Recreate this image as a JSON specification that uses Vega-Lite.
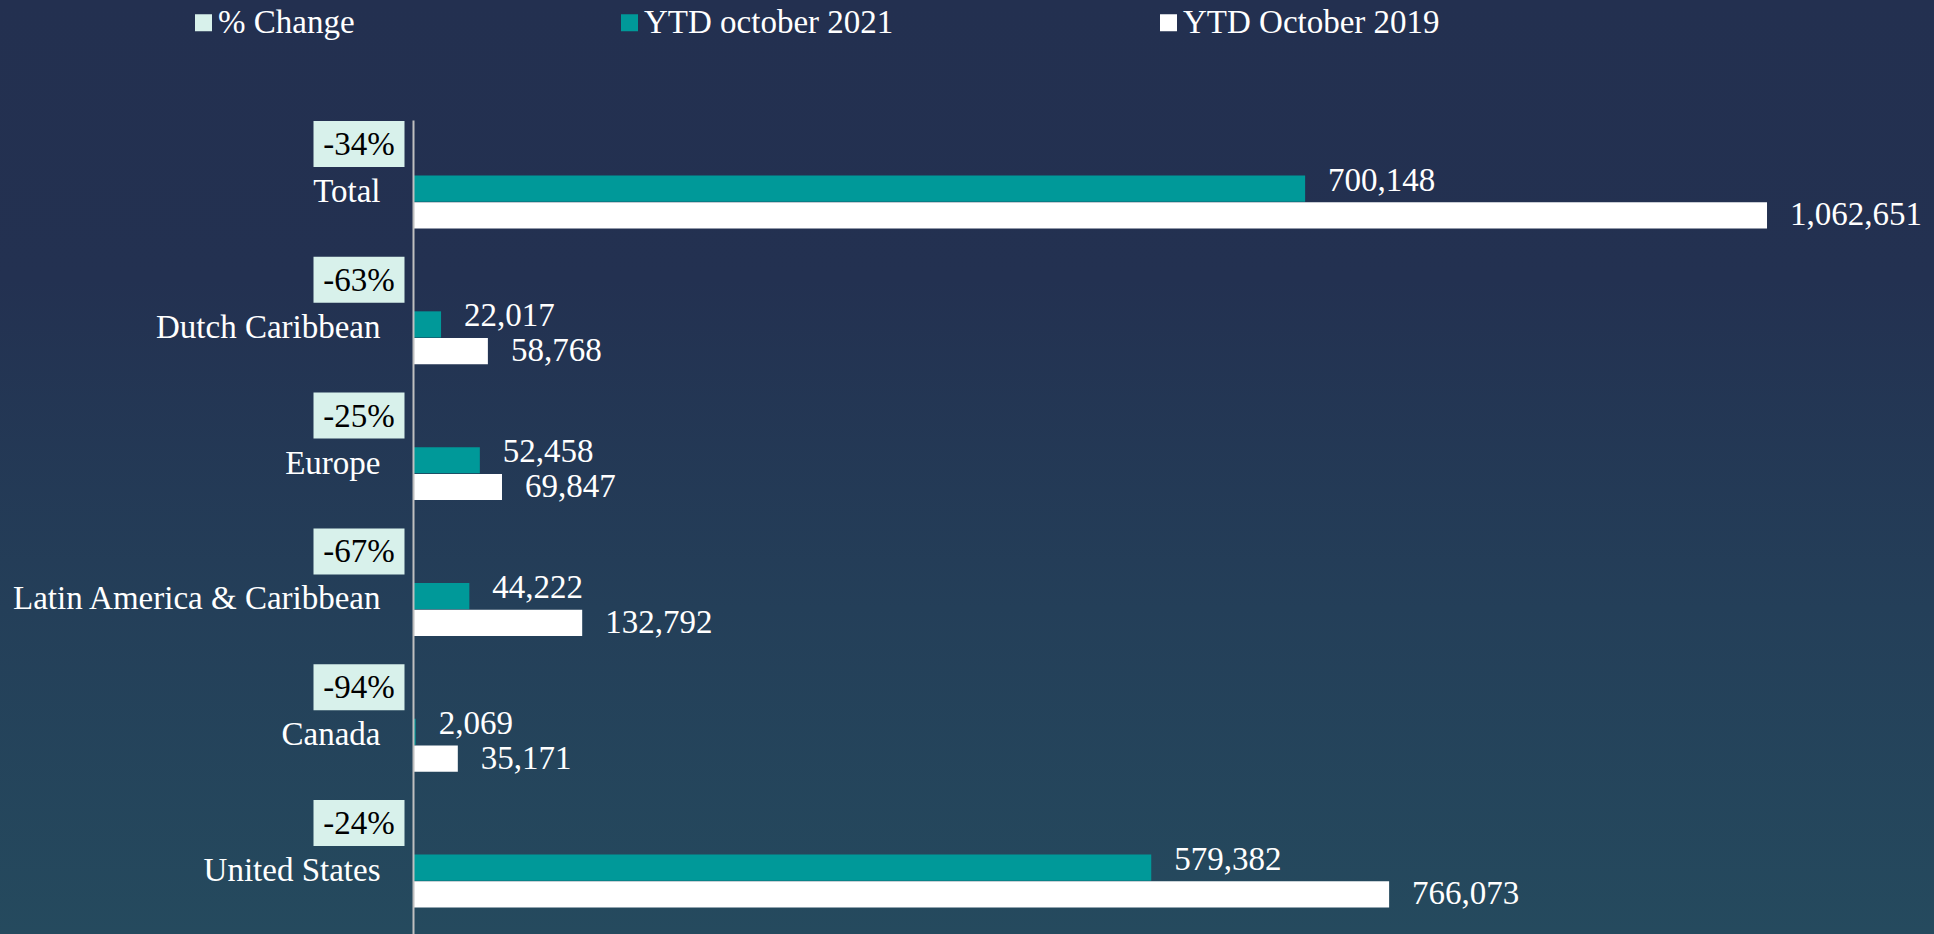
{
  "$schema": "https://vega.github.io/schema/vega-lite/v6.json",
  "width": 1934,
  "height": 934,
  "autosize": {"type": "none"},
  "padding": 0,
  "background": "#233050",
  "config": {
    "view": {
      "stroke": null,
      "fill": {
        "gradient": "linear",
        "x1": 0, "y1": 0, "x2": 0, "y2": 1,
        "stops": [
          {"offset": 0, "color": "#233050"},
          {"offset": 0.3, "color": "#233151"},
          {"offset": 0.65, "color": "#243f59"},
          {"offset": 1, "color": "#254a5e"}
        ]
      }
    },
    "font": "Liberation Serif",
    "legend": {
      "orient": "none", "legendX": 187, "legendY": 6, "direction": "horizontal", "title": null,
      "padding": 0, "symbolOffset": 0,
      "columnPadding": 258, "labelFontSize": 33, "labelColor": "#ffffff", "labelFont": "Liberation Serif",
      "labelLimit": 600,
      "symbolType": "square", "symbolSize": 289, "labelOffset": -2, "symbolStrokeWidth": 0
    }
  },
  "datasets": {
    "bars": [
      {"region": "Total", "series": "YTD october 2021", "value": 700148},
      {"region": "Total", "series": "YTD October 2019", "value": 1062651},
      {"region": "Dutch Caribbean", "series": "YTD october 2021", "value": 22017},
      {"region": "Dutch Caribbean", "series": "YTD October 2019", "value": 58768},
      {"region": "Europe", "series": "YTD october 2021", "value": 52458},
      {"region": "Europe", "series": "YTD October 2019", "value": 69847},
      {"region": "Latin America & Caribbean", "series": "YTD october 2021", "value": 44222},
      {"region": "Latin America & Caribbean", "series": "YTD October 2019", "value": 132792},
      {"region": "Canada", "series": "YTD october 2021", "value": 2069},
      {"region": "Canada", "series": "YTD October 2019", "value": 35171},
      {"region": "United States", "series": "YTD october 2021", "value": 579382},
      {"region": "United States", "series": "YTD October 2019", "value": 766073}
    ],
    "pct": [
      {"region": "Total", "pct": "-34%"},
      {"region": "Dutch Caribbean", "pct": "-63%"},
      {"region": "Europe", "pct": "-25%"},
      {"region": "Latin America & Caribbean", "pct": "-67%"},
      {"region": "Canada", "pct": "-94%"},
      {"region": "United States", "pct": "-24%"}
    ]
  },
  "encoding": {
    "y": {
      "field": "region",
      "type": "nominal",
      "sort": ["Total", "Dutch Caribbean", "Europe", "Latin America & Caribbean", "Canada", "United States"],
      "scale": {"range": [120, 934], "paddingInner": 0.61, "paddingOuter": 0.302, "align": 0.677},
      "axis": {
        "title": null,
        "offset": -413,
        "ticks": false,
        "domainColor": "#bfbfbf",
        "domainWidth": 2,
        "labelFontSize": 33,
        "labelColor": "#ffffff",
        "labelFont": "Liberation Serif",
        "labelPadding": 33,
        "labelBaseline": "alphabetic",
        "labelLimit": 600
      }
    }
  },
  "layer": [
    {
      "data": {"name": "pct"},
      "mark": {"type": "rect", "width": 91, "height": 46, "xOffset": -54, "yOffset": -58},
      "encoding": {
        "x": {"datum": 0, "type": "quantitative", "scale": {"domain": [0, 1193700], "range": [413, 1934], "nice": false, "zero": false}, "axis": null},
        "color": {
          "datum": "% Change",
          "type": "nominal",
          "title": null,
          "scale": {"domain": ["% Change", "YTD october 2021", "YTD October 2019"], "range": ["#d8f1eb", "#009999", "#ffffff"]}
        }
      }
    },
    {
      "data": {"name": "pct"},
      "mark": {"type": "text", "align": "center", "baseline": "middle", "dx": -54, "dy": -57, "fontSize": 33, "color": "#000000", "font": "Liberation Serif"},
      "encoding": {
        "x": {"datum": 0, "type": "quantitative"},
        "text": {"field": "pct"}
      }
    },
    {
      "data": {"name": "bars"},
      "mark": {"type": "bar", "orient": "horizontal"},
      "encoding": {
        "x": {"field": "value", "type": "quantitative"},
        "yOffset": {"field": "series", "type": "nominal", "sort": ["YTD october 2021", "YTD October 2019"], "scale": {"paddingInner": 0.02}},
        "color": {"field": "series", "type": "nominal", "title": null}
      }
    },
    {
      "data": {"name": "bars"},
      "transform": [{"filter": "datum.series === 'YTD october 2021'"}],
      "mark": {"type": "text", "align": "left", "baseline": "middle", "dx": 23, "dy": -8, "fontSize": 33, "color": "#ffffff", "font": "Liberation Serif"},
      "encoding": {
        "x": {"field": "value", "type": "quantitative"},
        "yOffset": {"field": "series", "type": "nominal", "sort": ["YTD october 2021", "YTD October 2019"]},
        "text": {"field": "value", "type": "quantitative", "format": ","}
      }
    },
    {
      "data": {"name": "bars"},
      "transform": [{"filter": "datum.series === 'YTD October 2019'"}],
      "mark": {"type": "text", "align": "left", "baseline": "middle", "dx": 23, "dy": 0, "fontSize": 33, "color": "#ffffff", "font": "Liberation Serif"},
      "encoding": {
        "x": {"field": "value", "type": "quantitative"},
        "yOffset": {"field": "series", "type": "nominal", "sort": ["YTD october 2021", "YTD October 2019"]},
        "text": {"field": "value", "type": "quantitative", "format": ","}
      }
    }
  ]
}
